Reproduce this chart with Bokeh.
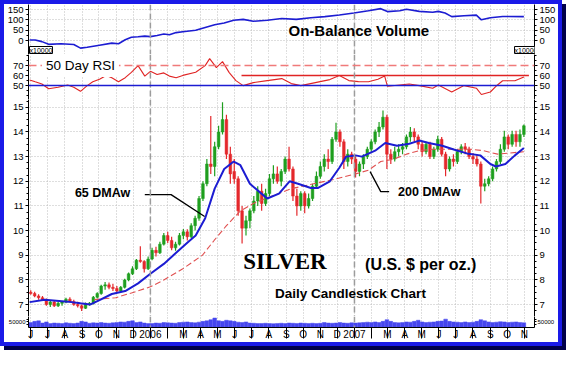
import pandas as pd
from bokeh.plotting import figure
from bokeh.layouts import column
from bokeh.models import Range1d, FixedTicker, LinearAxis, Grid, Span, Label, ColumnDataSource
from bokeh.embed import file_html
from bokeh.resources import INLINE

# ---------------- data ----------------
first_week = "2005-05-30"   # Monday of first weekly candle
week_open = [7.50, 7.45, 7.35, 7.28, 7.20, 7.00, 7.10, 6.95, 7.05, 7.10, 7.22, 7.12, 7.00, 6.95, 6.85, 7.02,
             7.05, 7.30, 7.45, 7.75, 7.80, 7.70, 7.65, 7.55, 7.70, 8.00, 8.25, 8.45, 8.80, 8.75, 8.45,
             8.85, 9.20, 9.10, 9.45, 9.80, 9.60, 9.30, 9.45, 9.80, 9.95, 9.75, 10.20, 10.50, 11.30, 11.90,
             12.70, 12.60, 13.40, 14.00, 14.50, 13.10, 12.40, 12.10, 10.80, 10.10, 10.40, 10.80, 11.20,
             11.60, 11.10, 11.50, 12.10, 12.30, 12.00, 12.40, 12.90, 12.50, 11.40, 11.00, 11.50, 11.00,
             11.30, 11.80, 12.20, 12.60, 12.90, 12.80, 13.70, 14.00, 13.60, 12.80, 13.10,
             12.90, 12.40, 12.70, 13.00, 13.30, 13.60, 14.00, 14.20, 14.60, 13.10, 12.90, 13.20, 13.30,
             13.40, 13.80, 14.00, 13.80, 13.50, 13.20, 13.50, 13.00, 13.30, 13.70, 13.10, 12.50, 12.90,
             12.80, 13.20, 13.40, 13.30, 13.00, 12.90, 12.70, 11.80, 11.90, 12.10, 12.50, 12.80, 13.30,
             13.80, 13.50, 13.90, 13.60, 13.90]
week_high = [7.58, 7.52, 7.42, 7.35, 7.25, 7.15, 7.15, 7.10, 7.15, 7.28, 7.30, 7.20, 7.12, 7.00, 7.08, 7.10,
             7.35, 7.50, 7.80, 7.92, 7.90, 7.85, 7.75, 7.75, 8.05, 8.30, 8.55, 8.85, 9.37, 8.80, 8.95,
             9.30, 9.35, 9.55, 9.90, 9.95, 9.75, 9.55, 9.90, 10.07, 10.05, 10.30, 10.60, 11.40, 12.00, 12.90,
             14.65, 13.60, 14.25, 15.20, 14.70, 13.40, 12.90, 12.20, 11.00, 10.60, 10.90, 11.40, 11.80,
             11.90, 11.70, 12.30, 12.65, 12.60, 12.50, 13.00, 13.40, 12.60, 11.70, 11.60, 11.60, 11.50,
             11.90, 12.40, 12.80, 13.10, 13.30, 13.80, 14.37, 14.10, 13.70, 13.30, 13.20,
             13.00, 12.80, 13.10, 13.40, 13.70, 14.10, 14.40, 14.87, 14.70, 13.30, 13.40, 13.50, 13.55,
             13.90, 14.20, 14.15, 13.90, 13.60, 13.60, 13.60, 13.40, 13.85, 13.80, 13.20, 13.00, 13.10,
             13.30, 13.50, 13.55, 13.40, 13.15, 13.10, 12.80, 12.10, 12.20, 12.60, 12.90, 13.50, 14.05,
             13.90, 14.05, 14.05, 14.10, 14.30]
week_low = [7.40, 7.30, 7.20, 7.15, 6.95, 6.90, 6.90, 6.90, 6.95, 7.05, 7.08, 6.95, 6.88, 6.74, 6.82, 6.95,
            7.00, 7.25, 7.40, 7.60, 7.62, 7.55, 7.48, 7.50, 7.65, 7.95, 8.20, 8.40, 8.70, 8.30, 8.40,
            8.80, 8.95, 9.05, 9.40, 9.50, 9.20, 9.18, 9.40, 9.65, 9.60, 9.70, 10.00, 10.40, 11.20, 11.80,
            12.30, 12.20, 13.30, 13.90, 12.90, 11.90, 11.90, 10.60, 9.48, 9.80, 10.10, 10.70, 11.00,
            10.80, 11.00, 11.40, 11.90, 11.90, 11.80, 12.30, 12.40, 11.20, 10.60, 10.80, 10.70, 10.90,
            11.20, 11.70, 12.10, 12.40, 12.50, 12.70, 13.60, 13.40, 12.50, 12.60, 12.70,
            12.15, 12.20, 12.50, 12.90, 13.20, 13.50, 13.80, 14.10, 12.50, 12.70, 12.80, 13.00, 13.10,
            13.30, 13.60, 13.60, 13.30, 13.00, 13.10, 12.90, 12.90, 13.20, 13.00, 12.20, 12.40, 12.60,
            12.70, 13.10, 13.10, 12.90, 12.70, 12.60, 11.10, 11.60, 11.80, 12.00, 12.40, 12.70, 13.20,
            13.30, 13.40, 13.40, 13.40, 13.80]
week_close = [7.45, 7.35, 7.28, 7.20, 7.00, 7.10, 6.95, 7.05, 7.10, 7.22, 7.12, 7.00, 6.95, 6.85, 7.02, 7.05,
              7.30, 7.45, 7.75, 7.80, 7.70, 7.65, 7.55, 7.70, 8.00, 8.25, 8.45, 8.80, 8.75, 8.45, 8.85,
              9.20, 9.10, 9.45, 9.80, 9.60, 9.30, 9.45, 9.80, 9.95, 9.75, 10.20, 10.50, 11.30, 11.90, 12.70,
              12.60, 13.40, 14.00, 14.50, 13.10, 12.30, 12.10, 10.80, 10.10, 10.40, 10.80, 11.20, 11.60,
              11.10, 11.50, 12.10, 12.30, 12.00, 12.40, 12.90, 12.50, 11.40, 11.00, 11.50, 11.00, 11.30,
              11.80, 12.20, 12.60, 12.90, 12.80, 13.70, 14.00, 13.60, 12.80, 13.10, 12.90,
              12.40, 12.70, 13.00, 13.30, 13.60, 14.00, 14.20, 14.60, 13.10, 12.90, 13.20, 13.30, 13.40,
              13.80, 14.00, 13.80, 13.50, 13.20, 13.50, 13.00, 13.30, 13.70, 13.10, 12.50, 12.90, 12.80,
              13.20, 13.40, 13.30, 13.00, 12.90, 12.70, 11.80, 11.90, 12.10, 12.50, 12.80, 13.30, 13.80,
              13.50, 13.90, 13.60, 13.90, 14.25]
week_volume_k = [45, 55, 60, 40, 50, 35, 40, 38, 35, 42, 38, 35, 40, 55, 50, 38, 42, 40, 45, 40, 38, 42, 45,
                 50, 48, 55, 60, 45, 50, 40, 35,
                 35, 40, 38, 45, 42, 40, 38, 45, 48, 50, 45, 42, 48, 55, 60, 70, 85, 60, 55, 65, 60, 55, 48,
                 45, 50, 40, 38, 35, 36, 38, 35, 34, 36, 38, 35, 40, 38, 36, 40, 38, 36, 38, 35, 38, 45, 40,
                 38, 40, 45, 40, 38, 42,
                 40, 42, 45, 48, 45, 50, 45, 55, 70, 55, 45, 42, 45, 50, 48, 55, 65, 50, 45, 48, 50, 55, 58,
                 75, 55, 50, 48, 45, 50, 45, 48, 55, 70, 60, 50, 45, 48, 52, 50, 45, 48, 50, 45, 42]

ma65_dates = ["2005-05-30", "2005-06-26", "2005-08-06", "2005-08-29", "2005-09-15", "2005-10-02", "2005-10-24",
              "2005-11-17", "2005-12-10", "2006-01-01", "2006-01-25", "2006-02-16", "2006-03-11", "2006-03-23",
              "2006-04-09", "2006-04-26", "2006-05-13", "2006-05-30", "2006-06-11", "2006-06-28", "2006-07-16",
              "2006-07-29", "2006-08-19", "2006-09-07", "2006-09-22", "2006-10-15", "2006-10-28", "2006-11-18",
              "2006-12-05", "2006-12-17", "2007-01-03", "2007-01-14", "2007-02-07", "2007-02-25", "2007-03-18",
              "2007-04-09", "2007-04-27", "2007-05-14", "2007-06-07", "2007-06-29", "2007-07-21", "2007-08-14",
              "2007-09-01", "2007-09-11", "2007-09-28", "2007-10-15", "2007-10-31"]
ma65 = [7.10, 7.20, 7.12, 7.05, 7.00, 7.18, 7.43, 7.55, 7.86, 8.25, 8.65, 9.10, 9.57, 9.80, 10.5, 11.7, 12.5,
        12.8, 12.65, 11.9, 11.55, 11.3, 11.5, 12.0, 11.9, 11.73, 11.73, 12.0, 12.55, 13.0, 13.05, 13.0, 13.24,
        13.55, 13.44, 13.52, 13.65, 13.55, 13.44, 13.28, 13.13, 13.05, 12.7, 12.6, 12.7, 13.05, 13.35]

ma200_dates = ["2005-09-23", "2005-10-31", "2005-11-28", "2006-01-01", "2006-01-25", "2006-02-28", "2006-04-04",
               "2006-04-25", "2006-05-17", "2006-06-11", "2006-07-04", "2006-08-07", "2006-09-10", "2006-10-20",
               "2006-11-30", "2007-01-03", "2007-01-26", "2007-02-17", "2007-03-13", "2007-04-04", "2007-04-27",
               "2007-05-21", "2007-07-04", "2007-07-28", "2007-08-20", "2007-09-14", "2007-10-31"]
ma200 = [7.20, 7.28, 7.47, 7.72, 8.0, 8.45, 9.0, 9.6, 10.2, 10.8, 11.1, 11.4, 11.7, 11.9, 12.1, 12.3, 12.45,
         12.8, 12.9, 13.1, 13.24, 13.3, 13.3, 13.3, 13.24, 13.1, 13.2]

obv_dates = ["2005-05-30", "2005-06-09", "2005-06-21", "2005-07-03", "2005-07-25", "2005-08-17", "2005-08-29",
             "2005-09-10", "2005-10-02", "2005-10-24", "2005-11-05", "2005-11-17", "2005-11-28", "2005-12-10",
             "2005-12-22", "2006-01-01", "2006-01-13", "2006-01-25", "2006-02-04", "2006-02-16", "2006-02-28",
             "2006-03-23", "2006-04-09", "2006-04-26", "2006-05-13", "2006-05-30", "2006-06-16", "2006-07-04",
             "2006-07-29", "2006-08-24", "2006-09-19", "2006-10-15", "2006-11-09", "2006-12-05", "2006-12-31",
             "2007-01-26", "2007-02-17", "2007-03-01", "2007-03-23", "2007-04-04", "2007-04-27", "2007-05-21",
             "2007-05-31", "2007-06-12", "2007-06-24", "2007-07-16", "2007-08-07", "2007-08-16", "2007-09-01",
             "2007-09-23", "2007-10-31"]
obv = [5, 5, -3, -16, -13, -17, -34, -30, -20, -10, -13, 6, 18, 20, 23, 21, 26, 33, 30, 40, 44, 51, 64, 77, 86,
       99, 103, 94, 99, 107, 103, 111, 116, 124, 133, 144, 154, 140, 144, 151, 141, 137, 141, 133, 116, 120,
       123, 101, 111, 117, 116]

rsi_dates = ["2005-05-30", "2005-06-09", "2005-06-21", "2005-07-03", "2005-07-20", "2005-08-06", "2005-08-17",
             "2005-08-29", "2005-09-10", "2005-09-20", "2005-10-02", "2005-10-14", "2005-10-24", "2005-11-05",
             "2005-11-17", "2005-11-28", "2005-12-10", "2005-12-22", "2006-01-01", "2006-01-13", "2006-01-25",
             "2006-02-04", "2006-02-16", "2006-02-28", "2006-03-23", "2006-04-09", "2006-04-17", "2006-04-29",
             "2006-05-10", "2006-05-22", "2006-06-03", "2006-06-16", "2006-07-04", "2006-07-29", "2006-08-24",
             "2006-09-10", "2006-09-27", "2006-10-23", "2006-11-18", "2006-12-05", "2006-12-22", "2007-01-08",
             "2007-01-26", "2007-02-12", "2007-02-24", "2007-03-01", "2007-03-23", "2007-04-09", "2007-04-27",
             "2007-05-21", "2007-05-31", "2007-06-24", "2007-07-16", "2007-08-07", "2007-08-16", "2007-09-01",
             "2007-09-11", "2007-09-23", "2007-10-15", "2007-10-31"]
rsi = [55.7, 53.8, 51.6, 46.8, 48.4, 50.6, 48.4, 44.3, 50.0, 53.8, 56.4, 60.2, 57.9, 53.8, 57.9, 63.3, 70.0,
       59.5, 64.3, 61.1, 62.7, 59.5, 57.9, 60.2, 63.3, 70.0, 77.0, 68.0, 74.0, 63.0, 55.0, 50.0, 53.0, 55.0,
       57.0, 52.0, 50.0, 53.0, 56.0, 60.0, 55.0, 54.0, 53.8, 56.4, 59.5, 49.3, 50.6, 51.6, 50.0, 47.4, 50.6,
       43.6, 50.0, 47.4, 41.1, 43.6, 49.3, 54.8, 54.8, 58.6]
rsi_60_line = ["2006-06-13", "2007-11-09"]

month_labels = ["J", "J", "A", "S", "O", "N", "D",
                "2006", "", "M", "A", "M", "J", "J", "A", "S", "O", "N", "D",
                "2007", "", "M", "A", "M", "J", "J", "A", "S", "O", "N"]
year_starts = ["2006-01-01", "2007-01-01"]
price_ticks = [7, 8, 9, 10, 11, 12, 13, 14, 15]
obv_ticks = [0, 50, 100, 150]
rsi_ticks = [50, 60, 70]
vol_ticks = [50000]

# ---------------- helpers ----------------
EPOCH = pd.Timestamp("2006-01-01")


def days(dates):
    return [float((pd.Timestamp(d) - EPOCH).days) for d in dates]


def day(d):
    return days([d])[0]


n = len(week_close)
week_x = [day(first_week) + 7 * i + 2 for i in range(n)]
month_ticks = [int(v) for v in days(pd.date_range("2005-06-01", periods=len(month_labels), freq="MS"))]
year_x = days(year_starts)

W = 554
LB, RB = 22, 22
FW = W - LB - RB
FONT = "Liberation Sans"
GRID = "#bcbcbc"
BLUE = "#1c1cd2"
RED = "#e02424"

X0, X1 = day("2005-05-28"), day("2007-11-19")
xr = Range1d(X0, X1)


def panel(h, y0, y1, bottom=0):
    p = figure(width=W, height=h, x_range=xr, y_range=Range1d(y0, y1),
               x_axis_type=None, y_axis_type=None, output_backend="svg", toolbar_location=None,
               min_border_left=LB, min_border_right=RB, min_border_top=0, min_border_bottom=bottom,
               outline_line_color=None, background_fill_color="white", border_fill_color="white")
    p.add_layout(Grid(dimension=0, ticker=FixedTicker(ticks=month_ticks), grid_line_color=GRID,
                      grid_line_dash="1 2", grid_line_width=1))
    for yx in year_x:
        p.add_layout(Span(location=yx, dimension="height", line_color="#9c9c9c", line_dash="6 3",
                          line_width=1.5))
    return p


def yaxes(p, ticks, minor, font="9.5px", grid=True, tick_out=3, standoff=2):
    for side in ("left", "right"):
        ax = LinearAxis(ticker=FixedTicker(ticks=ticks, minor_ticks=minor),
                        major_label_text_font=FONT, major_label_text_font_size=font,
                        major_label_text_color="black",
                        major_tick_in=0, major_tick_out=tick_out, minor_tick_in=0, minor_tick_out=2,
                        major_label_standoff=standoff, axis_line_color="black",
                        major_tick_line_color="black", minor_tick_line_color="black")
        p.add_layout(ax, side)
    if grid:
        p.add_layout(Grid(dimension=1, ticker=FixedTicker(ticks=ticks), grid_line_color=GRID,
                          grid_line_dash="1 2", grid_line_width=1))


def text(p, x, y, s, size, bold=True, font=FONT, **kw):
    p.add_layout(Label(x=day(x), y=y, text=s, text_font=font, text_font_size=size,
                       text_font_style="bold" if bold else "normal", text_baseline="middle",
                       text_align="left", text_color="black", **kw))


# ---------------- OBV panel ----------------
OBV_LO, OBV_HI = -64.3, 173.8
p_obv = panel(50, OBV_LO, OBV_HI)
yaxes(p_obv, obv_ticks, [25, 75, 125])
p_obv.line(days(obv_dates), obv, line_color=BLUE, line_width=1.6)
text(p_obv, "2006-09-05", 52, "On-Balance Volume", "15px")
# "x10000" scale boxes at the lower left / lower right corners of the OBV panel
for xs, align in ((1, "left"), (FW - 1, "right")):
    p_obv.add_layout(Label(x=xs, y=1, x_units="screen", y_units="screen", text="x10000",
                           text_font=FONT, text_font_size="7px", text_baseline="bottom",
                           text_align=align, border_line_color="black", background_fill_color="white",
                           text_color="black", level="overlay"))

# ---------------- RSI panel ----------------
p_rsi = panel(45, 36.1, 81.1)
yaxes(p_rsi, rsi_ticks, [40, 45, 55, 65, 75, 80], grid=False)
p_rsi.add_layout(Span(location=70, dimension="width", line_color="#f07a7a", line_dash="8 4", line_width=1.5))
p_rsi.add_layout(Span(location=50, dimension="width", line_color=BLUE, line_width=1.5))
p_rsi.line(days(rsi_60_line), [60, 60], line_color=RED, line_width=1.5)
p_rsi.line(days(rsi_dates), rsi, line_color=RED, line_width=1.1)
text(p_rsi, "2005-06-21", 70, "50 Day RSI", "13.5px", bold=False,
     background_fill_color="white", padding=4)

# ---------------- price panel ----------------
p_pr = panel(217, 6.517, 15.316)
yaxes(p_pr, price_ticks, [7.5, 8.5, 9.5, 10.5, 11.5, 12.5, 13.5, 14.5, 6.75, 7.25, 7.75, 8.25, 8.75,
                          9.25, 9.75, 10.25, 10.75, 11.25, 11.75, 12.25, 12.75, 13.25, 13.75, 14.25,
                          14.75, 15.25])
colors = ["#1f9f1f" if c >= o else "#e4282c" for o, c in zip(week_open, week_close)]
src = ColumnDataSource(dict(x=week_x, o=week_open, h=week_high, l=week_low, c=week_close,
                            top=[max(o, c) for o, c in zip(week_open, week_close)],
                            bot=[min(o, c) for o, c in zip(week_open, week_close)], col=colors))
p_pr.segment(x0="x", y0="l", x1="x", y1="h", line_color="col", line_width=1.2, source=src)
p_pr.vbar(x="x", width=4.8, top="top", bottom="bot", fill_color="col", line_color="col",
          line_width=0.5, source=src)
p_pr.line(days(ma200_dates), ma200, line_color="#e05050", line_dash="6 3", line_width=1.1)
p_pr.line(days(ma65_dates), ma65, line_color=BLUE, line_width=2)

# pointer lines for the moving-average labels
p_pr.line(days(["2005-12-22", "2006-02-07", "2006-04-08"]), [11.46, 11.46, 10.57],
          line_color="black", line_width=1.3)
p_pr.line(days(["2007-01-29", "2007-02-17", "2007-03-04"]), [12.39, 11.58, 11.58],
          line_color="black", line_width=1.3)
text(p_pr, "2005-08-19", 11.54, "65 DMAw", "12.5px")
text(p_pr, "2007-03-20", 11.58, "200 DMAw", "12.5px")
text(p_pr, "2006-06-16", 8.75, "SILVER", "23px", font="Liberation Serif")
text(p_pr, "2007-01-20", 8.64, "(U.S. $ per oz.)", "16px")
text(p_pr, "2006-08-12", 7.44, "Daily Candlestick Chart", "13.5px")

# ---------------- volume panel ----------------
p_vol = panel(26, 0, 98600, bottom=12)
yaxes(p_vol, vol_ticks, [25000, 75000], font="6px", grid=False, tick_out=2, standoff=1)
p_vol.vbar(x=week_x, top=[v * 1000 for v in week_volume_k], width=6.5, fill_color="#4646ee",
           line_color="#4646ee", line_width=0.5)
xax = LinearAxis(ticker=FixedTicker(ticks=month_ticks),
                 major_label_overrides={t: lab for t, lab in zip(month_ticks, month_labels)},
                 major_label_text_font=FONT, major_label_text_font_size="10px",
                 major_label_text_align="left", major_label_text_color="black",
                 major_tick_in=0, major_tick_out=11, major_label_standoff=-10,
                 axis_line_color="black", major_tick_line_color="black")
p_vol.add_layout(xax, "below")

layout = column(p_obv, p_rsi, p_pr, p_vol, spacing=0,
                styles={"border": "4px solid #1a1ae8", "box-shadow": "4px 4px 0 #00004a"})

open("out.html", "w").write(file_html(layout, INLINE))
